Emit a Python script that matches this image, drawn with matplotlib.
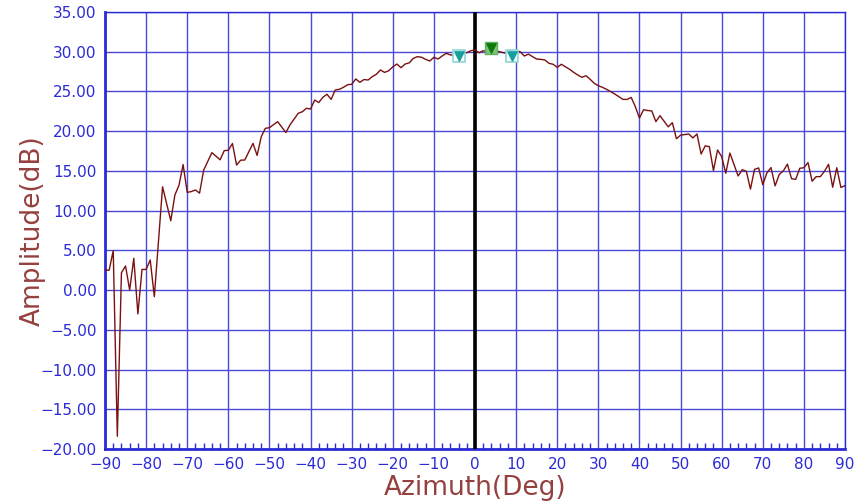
import matplotlib
matplotlib.use("Agg")
import matplotlib.pyplot as plt
from matplotlib.ticker import MultipleLocator, FuncFormatter

# Azimuth cut of the antenna pattern
azimuth = [-90, -89, -88, -87, -86, -85, -84, -83, -82, -81, -80, -79, -78, -76,
           -74, -73, -72, -71, -70, -69, -68, -67, -66, -64, -62, -61, -60, -59,
           -58, -57, -56, -54, -53, -52, -51, -50, -48, -46, -45, -43, -42, -41,
           -40, -39, -38, -37, -36, -35, -34, -33, -32, -31, -30, -29, -28, -27,
           -26, -25, -24, -23, -22, -21, -20, -19, -18, -17, -16, -15, -14, -13,
           -12, -11, -10, -9, -8, -7, -6, -4, -3, -2, -1, 0, 1, 2, 3, 4, 5, 6, 7,
           9, 10, 11, 12, 13, 14, 15, 16, 17, 18, 19, 20, 21, 22, 23, 24, 25, 26,
           27, 28, 29, 30, 31, 32, 33, 34, 35, 36, 37, 38, 39, 40, 41, 42, 43, 44,
           45, 47, 48, 49, 50, 52, 53, 54, 55, 56, 57, 58, 59, 60, 61, 62, 64, 65,
           66, 67, 68, 69, 70, 71, 72, 73, 74, 75, 76, 77, 78, 79, 80, 81, 82, 83,
           84, 85, 86, 87, 88, 89, 90]
amplitude = [2.53, 2.5, 4.96, -18.4, 2.19, 3.03, 0.01, 4.0, -3.0, 2.6, 2.6, 3.79, -0.83, 13.0,
             8.73, 11.97, 13.2, 15.8, 12.3, 12.4, 12.6, 12.2, 15.1, 17.3, 16.4, 17.55, 17.6, 18.45,
             15.74, 16.35, 16.37, 18.47, 16.95, 19.3, 20.36, 20.44, 21.2, 19.83, 20.8, 22.25, 22.45, 22.88,
             22.79, 23.92, 23.6, 24.27, 24.65, 24.0, 25.18, 25.27, 25.52, 25.85, 25.9, 26.57, 26.15, 26.5,
             26.44, 26.86, 27.16, 27.7, 27.4, 27.6, 28.1, 28.45, 27.99, 28.45, 28.6, 29.17, 29.38, 29.3,
             29.04, 28.83, 29.3, 29.08, 29.46, 29.8, 29.6, 29.5, 29.8, 29.88, 30.13, 30.2, 29.88, 30.13, 30.0, 30.2, 30.13, 30.0, 29.88,
             29.6, 30.13, 30.0, 29.46, 29.7, 29.38, 29.08, 29.04, 28.96, 28.54, 28.42, 28.04, 28.42, 28.1, 27.79, 27.41, 27.07, 26.78,
             26.98, 26.53, 26.03, 25.72, 25.52, 25.27, 24.97, 24.68, 24.34, 24.0, 24.0, 24.25, 23.08, 21.65, 22.7, 22.6, 22.55, 21.2,
             21.95, 20.55, 21.07, 19.05, 19.5, 19.65, 19.15, 19.65, 17.13, 18.15, 18.05, 15.05, 17.63, 16.8, 14.7, 17.25, 14.36, 15.15,
             14.95, 12.71, 15.2, 15.37, 13.25, 14.75, 15.42, 13.12, 14.55, 15.0, 15.85, 14.02, 13.94, 15.33, 15.4, 16.05, 13.7, 14.28,
             14.28, 14.95, 15.83, 12.94, 15.4, 12.92, 13.14]

# Beam markers
side_marker_az = [-4, 9]
side_marker_amp = [29.5, 29.5]
peak_marker_az = [4]
peak_marker_amp = [30.5]

x_ticks = list(range(-90, 91, 10))
y_ticks = list(range(-20, 36, 5))

blue = "#2b2bd6"
grid_blue = "#4a4ad8"
label_red = "#94403f"

fig = plt.figure(figsize=(8.6, 5.01), dpi=100)
ax = fig.add_axes([105 / 860, 52 / 501, 740 / 860, 437 / 501])

ax.set_xlim(-90, 90)
ax.set_ylim(-20, 35)
ax.set_xticks(x_ticks)
ax.set_yticks(y_ticks)
ax.xaxis.set_minor_locator(MultipleLocator(2))
ax.yaxis.set_major_formatter(FuncFormatter(lambda v, _: f"{v:.2f}".replace("-", "\u2212")))

ax.grid(True, which="major", color=grid_blue, lw=1.0, zorder=0)
ax.tick_params(axis="x", which="both", direction="in", colors=blue, labelsize=11,
               length=0, pad=6)
ax.tick_params(axis="x", which="minor", length=4, width=1)
ax.tick_params(axis="y", which="both", length=0, colors=blue, labelsize=11, pad=6)
for side in ax.spines.values():
    side.set_color(blue)
    side.set_linewidth(1.0)
ax.spines["left"].set_linewidth(2.0)
ax.spines["bottom"].set_linewidth(2.0)

ax.axvline(0, color="black", lw=2.6, zorder=3)
ax.plot(azimuth, amplitude, color="#7a1010", lw=1.0, zorder=4)

# Side markers: outlined square with teal triangle
ax.scatter(side_marker_az, side_marker_amp, marker="s", s=80, facecolor="white",
           edgecolor="#8fd4d4", lw=1.2, zorder=5)
ax.scatter(side_marker_az, side_marker_amp, marker="v", s=45, color="#159f9f", zorder=6)
# Peak marker: shaded square with green triangle
ax.scatter(peak_marker_az, peak_marker_amp, marker="s", s=80, facecolor="#7cc47c",
           edgecolor="#5fb05f", lw=1.0, zorder=5)
ax.scatter(peak_marker_az, peak_marker_amp, marker="v", s=45, color="#0b7a0b", zorder=6)

ax.set_xlabel("Azimuth(Deg)", color=label_red, fontsize=19, labelpad=2)
ax.set_ylabel("Amplitude(dB)", color=label_red, fontsize=19)
ax.yaxis.set_label_coords(-0.08, 0.5)

fig.savefig("out.png", dpi=100, facecolor="white")
